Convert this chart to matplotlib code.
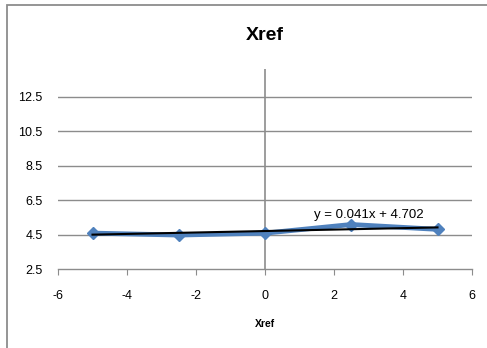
import numpy as np
import matplotlib
matplotlib.use("Agg")
import matplotlib.pyplot as plt
from matplotlib.patches import Rectangle

plt.rcParams['font.family'] = ['Liberation Sans', 'DejaVu Sans']

# Series data
x_vals = [-5, -2.5, 0, 2.5, 5]
y_vals = [4.58, 4.47, 4.58, 5.08, 4.80]
x_ticks = [-6, -4, -2, 0, 2, 4, 6]
y_ticks = [2.5, 4.5, 6.5, 8.5, 10.5, 12.5]
title_text = "Xref"
xlabel_text = "Xref"
trend_label = "y = 0.041x + 4.702"

fig = plt.figure(figsize=(4.87, 3.48), dpi=100)
fig.patch.set_facecolor("white")

# chart-area border
fig.patches.append(Rectangle((7 / 487, -0.05), 1.2, 1 - 5 / 348 + 0.05,
                             transform=fig.transFigure, fill=False,
                             edgecolor="#8c8c8c", linewidth=1.3))

ax = fig.add_axes([58 / 487, 1 - 269 / 348, (472 - 58) / 487, (269 - 69) / 348])
ax.set_xlim(-6, 6)
ax.set_ylim(2.5, 14.1)

for s in ["top", "right", "left"]:
    ax.spines[s].set_visible(False)
ax.spines["bottom"].set_color("#8c8c8c")
ax.spines["bottom"].set_linewidth(1.0)

ax.set_xticks(x_ticks)
ax.set_xticklabels([str(t) for t in x_ticks])
ax.set_yticks(y_ticks)
ax.set_yticklabels([str(t) for t in y_ticks])
ax.tick_params(axis="x", direction="out", length=4, color="#8c8c8c",
               labelsize=9, pad=11)
ax.tick_params(axis="y", length=0, labelsize=9, pad=11)

for t in y_ticks[1:]:
    ax.axhline(t, color="#8c8c8c", linewidth=1.0, zorder=1)
ax.axvline(0, color="#8c8c8c", linewidth=1.2, zorder=1)

ax.plot(x_vals, y_vals, color="#4F81BD", linewidth=3.5, marker="D",
        markersize=6.5, zorder=3)

slope, intercept = np.polyfit(x_vals, y_vals, 1)
xs = np.array([min(x_vals), max(x_vals)])
ax.plot(xs, slope * xs + intercept, color="black", linewidth=1.5, zorder=4)

ax.text(3.0, 5.65, trend_label, fontsize=9.5, ha="center", va="center", zorder=5)

fig.text(265 / 487, 1 - 35 / 348, title_text, fontsize=14, fontweight="bold",
         ha="center", va="center")
fig.text(265 / 487, 1 - 324 / 348, xlabel_text, fontsize=7.5, fontweight="bold",
         ha="center", va="center")

fig.savefig("out.png", dpi=100)
